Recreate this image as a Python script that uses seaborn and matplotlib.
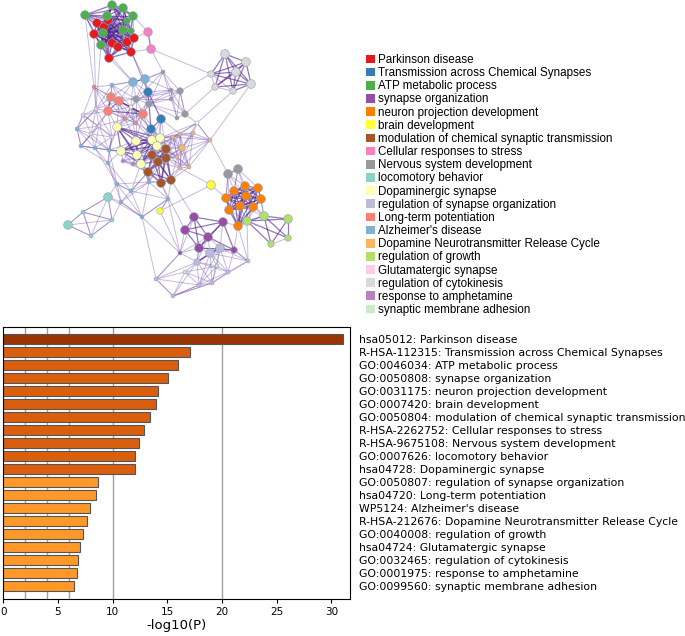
import itertools
import numpy as np
import pandas as pd
import matplotlib
matplotlib.use("Agg")
import matplotlib.pyplot as plt
from matplotlib.collections import LineCollection
from matplotlib.patches import Patch
import seaborn as sns

# cluster terms (legend order) and their colours
terms = ["Parkinson disease", "Transmission across Chemical Synapses", "ATP metabolic process",
         "synapse organization", "neuron projection development", "brain development",
         "modulation of chemical synaptic transmission", "Cellular responses to stress",
         "Nervous system development", "locomotory behavior", "Dopaminergic synapse",
         "regulation of synapse organization", "Long-term potentiation", "Alzheimer's disease",
         "Dopamine Neurotransmitter Release Cycle", "regulation of growth", "Glutamatergic synapse",
         "regulation of cytokinesis", "response to amphetamine", "synaptic membrane adhesion"]
term_colors = ["#e41a1c", "#377eb8", "#4daf4a", "#984ea3", "#ff7f00", "#ffff33", "#a65628",
               "#f781bf", "#999999", "#8dd3c7", "#ffffb3", "#bebada", "#fb8072", "#80b1d3",
               "#fdb462", "#b3de69", "#fccde5", "#d9d9d9", "#bc80bd", "#ccebc5"]

# network layout, one sub-list per term
net_x = [[97, 104, 108, 94, 112, 118, 127, 134, 131, 109],
         [148, 161, 151],
         [112, 123, 133, 107, 85, 127, 103, 123, 131, 101],
         [194, 223, 185, 208, 199, 234, 180],
         [234, 245, 258, 226, 246, 261, 240, 253, 229, 238],
         [211, 160],
         [166, 152, 166, 158, 148, 161, 171],
         [148, 151],
         [163, 171, 180, 136, 149, 185, 171, 228, 238, 177],
         [108, 68, 83, 112, 91],
         [117, 136, 152, 160, 157, 121, 137, 141, 131, 197],
         [220, 210, 197, 228, 212, 199, 248, 156, 173],
         [111, 119, 108, 143, 94, 125, 136],
         [133, 145, 112, 77, 81, 95, 109, 121, 142, 168, 117, 131, 149, 108],
         [173, 180, 182, 177, 189, 180, 193, 210],
         [247, 264, 288, 288, 271],
         [96, 83, 99, 112, 91],
         [225, 246, 236, 211, 251, 233, 215],
         [133, 123],
         [217, 185]]
net_y = [[23, 27, 20, 34, 43, 47, 42, 38, 52, 58],
         [92, 119, 129],
         [5, 8, 16, 16, 15, 21, 33, 30, 31, 45],
         [217, 222, 230, 237, 248, 250, 253],
         [191, 186, 188, 198, 196, 199, 206, 207, 210, 226],
         [185, 211],
         [149, 155, 158, 162, 172, 183, 180],
         [32, 49],
         [72, 90, 91, 99, 104, 114, 99, 174, 169, 118],
         [197, 225, 212, 220, 236],
         [127, 141, 140, 138, 146, 151, 155, 164, 107, 123],
         [248, 253, 262, 272, 283, 285, 261, 279, 296],
         [97, 101, 111, 114, 87, 119, 123],
         [82, 79, 85, 129, 146, 148, 150, 202, 217, 199, 184, 191, 182, 163],
         [137, 134, 148, 157, 167, 168, 133, 140],
         [221, 216, 219, 238, 244],
         [109, 115, 126, 137, 134],
         [54, 62, 72, 74, 84, 91, 87],
         [164, 161],
         [266, 272]]
net_w = [[3] * 10,
         [3, 3, 3],
         [3, 3, 3, 3, 3, 2, 3, 3, 2, 3],
         [3, 3, 3, 3, 3, 2, 1],
         [3] * 10,
         [3, 2],
         [3] * 7,
         [3, 3],
         [1, 1, 2, 2, 2, 2, 1, 3, 3, 1],
         [3, 3, 1, 1, 1],
         [3, 3, 3, 3, 3, 3, 3, 3, 1, 1],
         [3, 3, 2, 1, 1, 1, 1, 1, 1],
         [3, 3, 3, 3, 1, 1, 1],
         [3, 3, 1, 1, 1, 1, 1, 1, 1, 1, 1, 1, 1, 1],
         [1, 1, 2, 1, 1, 1, 1, 1],
         [3, 3, 3, 2, 2],
         [1, 1, 1, 1, 1],
         [3, 3, 3, 2, 3, 2, 2],
         [1, 1],
         [1, 1]]

# term pairs whose nearby members are linked, and the long links
linked_terms = [(0, 2), (10, 6), (6, 14), (12, 16), (13, 12), (1, 13), (8, 13), (3, 11), (4, 15),
                (11, 19), (1, 10), (12, 10), (16, 13), (10, 14), (6, 18), (10, 18), (4, 8), (3, 5),
                (13, 10), (13, 6), (12, 8)]
long_links = [((2, 9), (13, 0)), ((0, 9), (13, 0)), ((0, 8), (13, 1)), ((2, 7), (1, 0)), ((0, 6), (1, 0)),
              ((0, 7), (7, 0)), ((0, 8), (7, 1)), ((2, 2), (7, 0)), ((7, 1), (8, 0)), ((7, 1), (17, 3)),
              ((2, 4), (12, 4)), ((0, 3), (16, 0)), ((2, 9), (16, 0)), ((17, 3), (8, 2)), ((17, 6), (8, 5)),
              ((17, 5), (10, 9)), ((17, 4), (14, 7)), ((8, 2), (8, 5)), ((13, 1), (8, 0)), ((1, 0), (8, 1)),
              ((1, 0), (12, 3)), ((1, 1), (6, 0)), ((1, 2), (10, 2)), ((1, 1), (14, 1)), ((8, 5), (10, 9)),
              ((10, 9), (14, 7)), ((14, 7), (8, 7)), ((8, 7), (4, 3)), ((8, 8), (4, 0)), ((8, 7), (4, 8)),
              ((5, 0), (4, 3)), ((5, 0), (5, 1)), ((5, 1), (13, 9)), ((6, 5), (3, 2)), ((6, 6), (3, 0)),
              ((6, 4), (13, 12)), ((13, 10), (9, 0)), ((13, 8), (9, 0)), ((9, 0), (13, 7)), ((9, 3), (13, 7)),
              ((9, 2), (9, 3)), ((13, 8), (3, 6)), ((13, 8), (11, 7)), ((3, 1), (4, 9)), ((4, 9), (15, 0)),
              ((4, 9), (3, 5)), ((3, 5), (11, 6)), ((11, 6), (4, 9)), ((15, 0), (11, 6)), ((3, 6), (11, 7)),
              ((11, 7), (11, 8)), ((11, 8), (11, 5)), ((11, 8), (11, 4)), ((3, 4), (11, 2)), ((13, 3), (16, 0)),
              ((13, 4), (13, 5)), ((13, 6), (10, 5)), ((13, 11), (13, 10)), ((13, 11), (6, 4)),
              ((13, 9), (5, 1)), ((13, 9), (13, 8)), ((12, 4), (16, 1)), ((16, 1), (13, 3)),
              ((13, 3), (13, 4)), ((16, 4), (13, 4)), ((16, 3), (13, 6)), ((5, 0), (14, 5)),
              ((13, 7), (13, 8)), ((9, 1), (9, 2)), ((9, 1), (9, 4)), ((9, 2), (9, 4)), ((9, 3), (9, 4)),
              ((9, 0), (9, 2)), ((9, 0), (9, 3)), ((13, 9), (3, 6)), ((5, 1), (3, 6)), ((11, 7), (3, 6))]

# enrichment bars
bar_labels = ["hsa05012: Parkinson disease",
              "R-HSA-112315: Transmission across Chemical Synapses",
              "GO:0046034: ATP metabolic process",
              "GO:0050808: synapse organization",
              "GO:0031175: neuron projection development",
              "GO:0007420: brain development",
              "GO:0050804: modulation of chemical synaptic transmission",
              "R-HSA-2262752: Cellular responses to stress",
              "R-HSA-9675108: Nervous system development",
              "GO:0007626: locomotory behavior",
              "hsa04728: Dopaminergic synapse",
              "GO:0050807: regulation of synapse organization",
              "hsa04720: Long-term potentiation",
              "WP5124: Alzheimer's disease",
              "R-HSA-212676: Dopamine Neurotransmitter Release Cycle",
              "GO:0040008: regulation of growth",
              "hsa04724: Glutamatergic synapse",
              "GO:0032465: regulation of cytokinesis",
              "GO:0001975: response to amphetamine",
              "GO:0099560: synaptic membrane adhesion"]
bar_values = [31.1, 17.1, 16.0, 15.1, 14.1, 13.95, 13.45, 12.9, 12.45, 12.05, 12.05,
              8.7, 8.5, 7.9, 7.65, 7.25, 6.97, 6.85, 6.7, 6.43]
bar_colors = ["#993404"] + ["#d95f0e"] * 10 + ["#fe9929"] * 9

nodes = pd.DataFrame([{"t": t, "k": k, "x": x, "y": y, "w": w, "term": terms[t]}
                      for t in range(len(terms))
                      for k, (x, y, w) in enumerate(zip(net_x[t], net_y[t], net_w[t]))])
pos = {(r.t, r.k): (r.x, r.y) for r in nodes.itertuples()}

strong, weak = [], []
for t in range(len(terms)):
    for a, b in itertools.combinations(range(len(net_x[t])), 2):
        pa, pb = pos[(t, a)], pos[(t, b)]
        if np.hypot(pa[0] - pb[0], pa[1] - pb[1]) < 45:
            (strong if net_w[t][a] + net_w[t][b] >= 5 else weak).append([pa, pb])
for ta, tb in linked_terms:
    for a in range(len(net_x[ta])):
        for b in range(len(net_x[tb])):
            pa, pb = pos[(ta, a)], pos[(tb, b)]
            if np.hypot(pa[0] - pb[0], pa[1] - pb[1]) < 30:
                weak.append([pa, pb])
for a, b in long_links:
    weak.append([pos[a], pos[b]])

fig = plt.figure(figsize=(6.85, 6.36), dpi=100)

# network
ax1 = fig.add_axes([0, 1 - 320 / 636, 340 / 685, 320 / 636])
ax1.add_collection(LineCollection(weak, colors="#7250ad", linewidths=0.7, alpha=0.4, zorder=1))
ax1.add_collection(LineCollection(strong, colors="#4b1f8a", linewidths=0.9, alpha=0.6, zorder=1))
sns.scatterplot(data=nodes, x="x", y="y", hue="term", hue_order=terms,
                palette=dict(zip(terms, term_colors)), size="w", sizes={1: 8, 2: 22, 3: 40},
                edgecolor="#8fa3bd", linewidth=0.4, legend=False, ax=ax1, zorder=2)
ax1.set_xlim(0, 340)
ax1.set_ylim(320, 0)
ax1.axis("off")

handles = [Patch(facecolor=c, edgecolor="none", label=t) for t, c in zip(terms, term_colors)]
fig.legend(handles=handles, loc="upper left", bbox_to_anchor=(366 / 685, 1 - 54 / 636),
           frameon=False, prop={"family": "Liberation Sans", "size": 8.35},
           handlelength=0.78, handleheight=0.78, handletextpad=0.25, labelspacing=0.10,
           borderpad=0, borderaxespad=0)

# bar chart
ax2 = fig.add_axes([3.3 / 685, 37 / 636, (350 - 3.3) / 685, 272.3 / 636])
for v in [2, 4, 6, 10, 20]:
    ax2.axvline(v, color="#a0a0a0", linewidth=1, zorder=0)
sns.barplot(x=bar_values, y=bar_labels, hue=bar_labels, palette=bar_colors, legend=False,
            orient="h", width=0.8, saturation=1, edgecolor="#555555", linewidth=0.8,
            ax=ax2, zorder=2)
ax2.set_xlim(0, 31.7)
ax2.set_ylim(20.0, -0.97)
ax2.set_xticks([0, 5, 10, 15, 20, 25, 30])
ax2.yaxis.tick_right()
ax2.tick_params(axis="y", length=0, pad=6.5, labelsize=7.8)
ax2.tick_params(axis="x", labelsize=7.5, pad=2.5, length=3)
ax2.set_xlabel("-log10(P)", fontsize=9.5, labelpad=1.5)
ax2.set_ylabel("")

fig.savefig("out.png", dpi=100)
